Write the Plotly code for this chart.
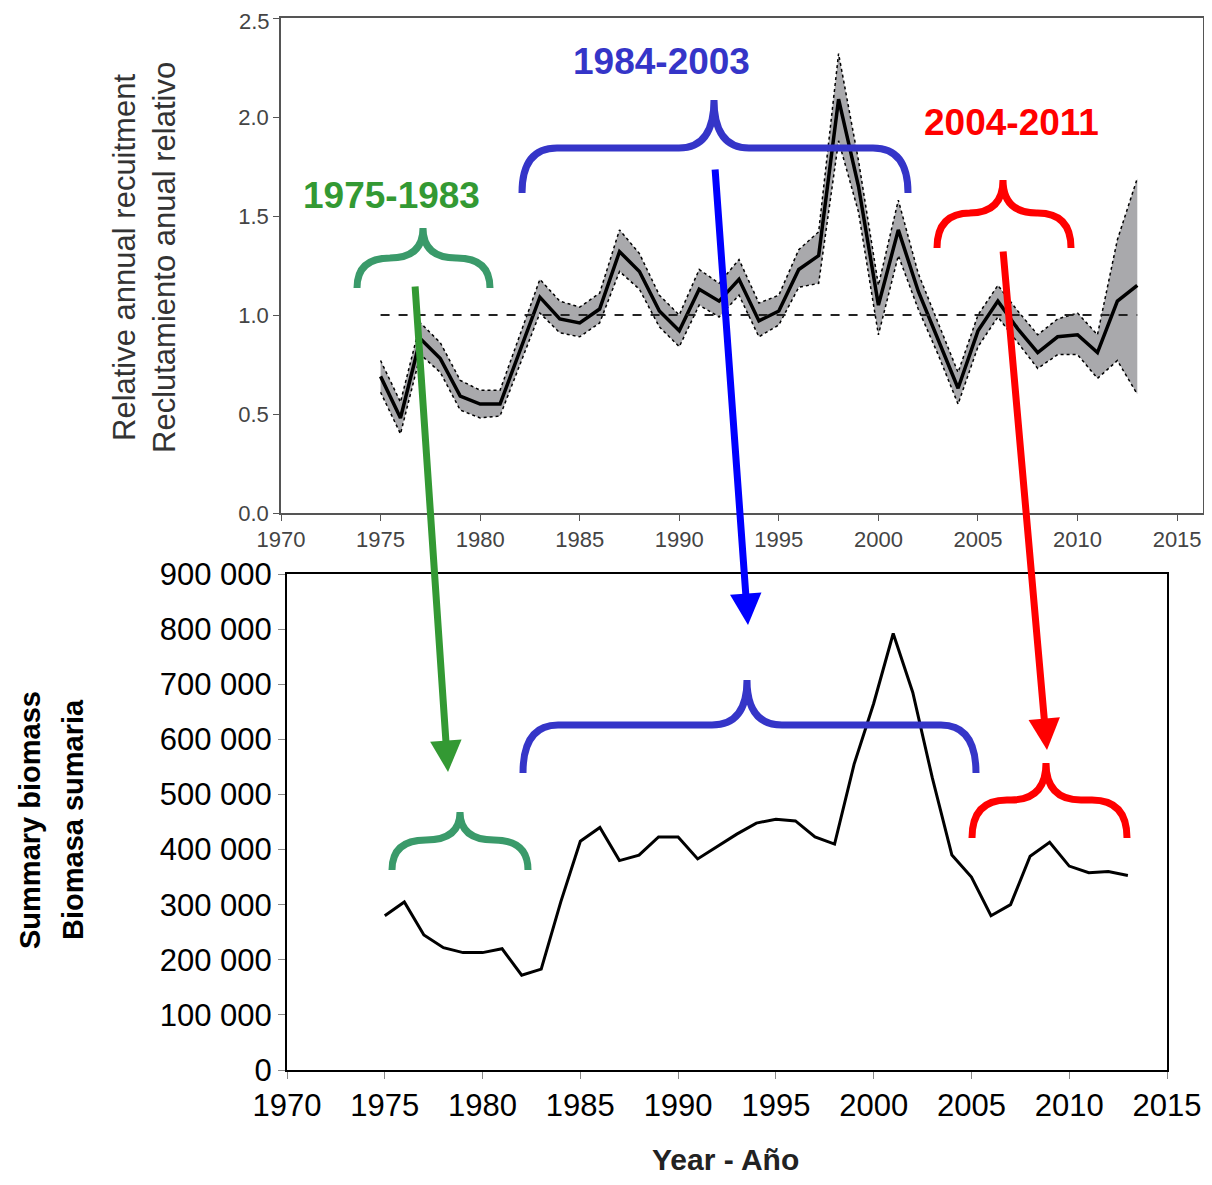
import plotly.graph_objects as go

W, H = 1196, 1169
OFF = 8
years = list(range(1975, 2014))
recruit = [0.69,0.48,0.88,0.78,0.59,0.55,0.55,0.82,1.09,0.98,0.96,1.03,1.32,1.22,1.02,0.92,1.13,1.07,1.18,0.97,1.02,1.23,1.30,2.09,1.65,1.05,1.43,1.12,0.88,0.63,0.92,1.07,0.93,0.81,0.89,0.90,0.81,1.07,1.15]
upper = [0.77,0.56,0.96,0.86,0.67,0.62,0.62,0.90,1.18,1.07,1.04,1.11,1.43,1.31,1.10,1.00,1.23,1.16,1.28,1.06,1.10,1.33,1.42,2.32,1.78,1.15,1.58,1.21,0.96,0.71,1.00,1.15,1.02,0.90,0.98,1.01,0.90,1.38,1.69]
lower = [0.61,0.40,0.80,0.71,0.52,0.48,0.49,0.75,1.01,0.91,0.89,0.96,1.22,1.13,0.94,0.84,1.05,0.99,1.10,0.89,0.95,1.14,1.16,1.88,1.52,0.90,1.30,1.03,0.80,0.55,0.84,0.99,0.86,0.73,0.80,0.80,0.68,0.77,0.60]
biomass = [280000,305000,245000,222000,213000,213000,220000,172000,183000,305000,415000,440000,380000,390000,423000,423000,383000,405000,428000,448000,455000,452000,423000,410000,555000,665000,792000,685000,530000,390000,350000,280000,300000,388000,413000,370000,358000,360000,353000]
ref_level = [1.0, 1.0]
ref_years = [1975, 2013]
top_yticks = [0.0, 0.5, 1.0, 1.5, 2.0, 2.5]
top_yticktext = ["0.0", "0.5", "1.0", "1.5", "2.0", ""]
bot_yticks = list(range(0, 900001, 100000))
xticks = list(range(1970, 2016, 5))

def px(x): return (x - OFF) / W
def py(y): return 1 - (y - OFF) / H

fig = go.Figure()
fig.add_trace(go.Scatter(x=years, y=upper, mode="lines", line=dict(color="black", width=1.5, dash="dot"), showlegend=False))
fig.add_trace(go.Scatter(x=years, y=lower, mode="lines", fill="tonexty", fillcolor="#a9a9ac", line=dict(color="black", width=1.5, dash="dot"), showlegend=False))
fig.add_trace(go.Scatter(x=years, y=recruit, mode="lines", line=dict(color="black", width=3.5), showlegend=False))
fig.add_trace(go.Scatter(x=ref_years, y=ref_level, mode="lines", line=dict(color="#222", width=2, dash="dash"), showlegend=False))
fig.add_trace(go.Scatter(x=years, y=biomass, mode="lines", line=dict(color="black", width=3), xaxis="x2", yaxis="y2", showlegend=False))

fig.update_layout(
    width=W, height=H, margin=dict(l=0, r=0, t=0, b=0),
    paper_bgcolor="white", plot_bgcolor="white",
    font=dict(family="Arial, Liberation Sans", color="black"),
    xaxis=dict(domain=[px(281), px(1203)], range=[1970, 2016.3], tickvals=xticks, ticks="outside",
               ticklen=6, tickcolor="#555", showline=True, linecolor="#555", linewidth=1.5, mirror=True,
               showgrid=False, zeroline=False, anchor="y", automargin=False,
               tickfont=dict(size=22, color="#444")),
    yaxis=dict(domain=[py(513), py(18)], range=[0, 2.5], tickvals=top_yticks, ticktext=top_yticktext,
               ticks="outside", ticklen=6, tickcolor="#555", showline=True, linecolor="#555", linewidth=1.5, mirror=True,
               showgrid=False, zeroline=False, anchor="x", automargin=False, tickfont=dict(size=22, color="#444")),
    xaxis2=dict(domain=[px(287), px(1167)], range=[1970, 2015.0], tickvals=xticks, ticks="outside",
                ticklen=7, tickcolor="#888", showline=True, linecolor="black", linewidth=2, mirror=True,
                showgrid=False, zeroline=False, anchor="y2", automargin=False, tickfont=dict(size=31)),
    yaxis2=dict(domain=[py(1070), py(574)], range=[0, 900000], tickvals=bot_yticks,
                ticktext=[f"{v:,}".replace(",", " ") for v in bot_yticks],
                ticks="outside", ticklen=7, tickcolor="#888", showline=True, linecolor="black", linewidth=2, mirror=True,
                showgrid=False, zeroline=False, anchor="x2", automargin=False, tickfont=dict(size=31)),
)

ann = []
ann.append(dict(x=px(272), y=py(22), text="2.5", xanchor="right", font=dict(size=22, color="#444")))
ann.append(dict(x=px(125), y=py(258), text="Relative annual recuitment", textangle=-90, font=dict(size=31, color="#333")))
ann.append(dict(x=px(165), y=py(258), text="Reclutamiento anual relativo", textangle=-90, font=dict(size=31, color="#333")))
ann.append(dict(x=px(30), y=py(820), text="<b>Summary biomass</b>", textangle=-90, font=dict(size=29)))
ann.append(dict(x=px(73), y=py(820), text="<b>Biomasa sumaria</b>", textangle=-90, font=dict(size=29)))
ann.append(dict(x=px(725), y=py(1159), text="<b>Year - Año</b>", font=dict(size=30, color="#222")))
ann.append(dict(x=px(391), y=py(196), text="<b>1975-1983</b>", font=dict(size=37, color="#339933")))
ann.append(dict(x=px(661), y=py(62), text="<b>1984-2003</b>", font=dict(size=37, color="#3535c8")))
ann.append(dict(x=px(1011), y=py(122), text="<b>2004-2011</b>", font=dict(size=37, color="#ff0000")))
for a in ann:
    a.setdefault("xanchor", "center")
    a.update(xref="paper", yref="paper", showarrow=False, yanchor="middle")

arrows = [((415, 285), (448, 772), "#339933"),
          ((715, 168), (748, 625), "#0000ff"),
          ((1003, 250), (1047, 750), "#ff0000")]
for (x0, y0), (x1, y1), c in arrows:
    ann.append(dict(x=px(x1), y=py(y1), xref="paper", yref="paper", ax=x0 - x1, ay=y0 - y1,
                    showarrow=True, arrowhead=2, arrowsize=0.9, arrowwidth=7, arrowcolor=c, text=""))
fig.update_layout(annotations=ann)

def brace_at(x0, x1, xm, yend, ybar, ytip):
    r = min(35, (x1 - x0) / 4)
    pts = [
        ("M", [(x0, yend)]),
        ("Q", [(x0, ybar), (x0 + r, ybar)]),
        ("L", [(xm - r, ybar)]),
        ("Q", [(xm, ybar), (xm, ytip)]),
        ("Q", [(xm, ybar), (xm + r, ybar)]),
        ("L", [(x1 - r, ybar)]),
        ("Q", [(x1, ybar), (x1, yend)]),
    ]
    s = ""
    for cmd, ps in pts:
        s += cmd + " " + " ".join(f"{px(a):.5f},{py(b):.5f}" for a, b in ps) + " "
    return s

braces = [(357, 490, 423, 288, 258, 228, "#3a9a6a"),
          (522, 908, 714, 193, 148, 100, "#3535c8"),
          (937, 1071, 1003, 248, 213, 180, "#ff0000"),
          (392, 528, 460, 870, 840, 812, "#3a9a6a"),
          (523, 976, 747, 773, 725, 680, "#3535c8"),
          (972, 1127, 1046, 838, 800, 763, "#ff0000")]
shapes = []
for x0, x1, xm, ye, yb, yt, c in braces:
    shapes.append(dict(type="path", xref="paper", yref="paper", path=brace_at(x0, x1, xm, ye, yb, yt),
                       line=dict(color=c, width=7)))
fig.update_layout(shapes=shapes)

fig.write_html("out.html")
